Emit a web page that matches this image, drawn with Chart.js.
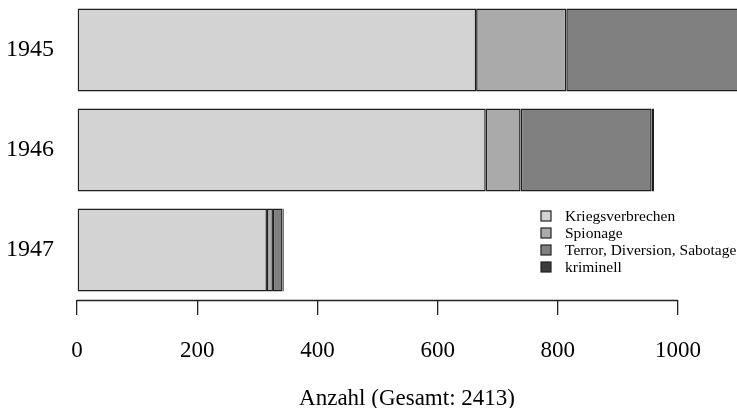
<!DOCTYPE html>
<html>
<head>
<meta charset="utf-8">
<script src="https://cdn.jsdelivr.net/npm/chart.js@4/dist/chart.umd.min.js"></script>
<style>
html,body{margin:0;padding:0;background:#fff;}
#wrap{width:737px;height:408px;position:relative;}
</style>
</head>
<body>
<div id="wrap"><canvas id="c" width="737" height="408"></canvas></div>
<script>
const years = ["1945", "1946", "1947"];
const kriegsverbrechen = [664, 680, 316];
const spionage = [150, 58, 10];
const terror = [290, 218, 16];
const kriminell = [5, 4, 2];
const seriesNames = ["Kriegsverbrechen", "Spionage", "Terror, Diversion, Sabotage", "kriminell"];
const xTicks = [0, 200, 400, 600, 800, 1000];
const axisTitle = "Anzahl (Gesamt: 2413)";

const colors = ["#d3d3d3", "#aaaaaa", "#808080", "#3c3c3c"];
const serif = "'Liberation Serif', 'Times New Roman', serif";

const detachedAxis = {
  id: 'detachedAxis',
  afterDraw(chart) {
    const ctx = chart.ctx;
    const xs = chart.scales.x;
    const y = chart.chartArea.bottom;
    ctx.save();
    ctx.strokeStyle = '#222';
    ctx.lineWidth = 1.3;
    ctx.beginPath();
    ctx.moveTo(xs.getPixelForValue(xTicks[0]), y + 0.5);
    ctx.lineTo(xs.getPixelForValue(xTicks[xTicks.length - 1]), y + 0.5);
    ctx.stroke();
    // legend
    const lx = 541, ly0 = 216, step = 17;
    ctx.font = "15.5px " + serif;
    ctx.textBaseline = 'middle';
    chart.data.datasets.forEach((ds, i) => {
      const yy = ly0 + i * step;
      ctx.fillStyle = ds.backgroundColor;
      ctx.fillRect(lx, yy - 5, 10, 10);
      ctx.strokeStyle = '#222';
      ctx.lineWidth = 1.2;
      ctx.strokeRect(lx, yy - 5, 10, 10);
      ctx.fillStyle = '#000';
      ctx.fillText(ds.label, 565, yy + 1);
    });
    ctx.restore();
  }
};

const datasets = [kriegsverbrechen, spionage, terror, kriminell].map((d, i) => ({
  label: seriesNames[i],
  data: d,
  backgroundColor: colors[i],
  borderColor: '#1e1e1e',
  borderWidth: 1.5,
  borderSkipped: false,
  barPercentage: 0.83,
  categoryPercentage: 1.0
}));

new Chart(document.getElementById('c'), {
  type: 'bar',
  data: { labels: years, datasets },
  plugins: [detachedAxis],
  options: {
    indexAxis: 'y',
    responsive: false,
    animation: false,
    layout: { padding: 0 },
    plugins: { legend: { display: false }, tooltip: { enabled: false } },
    scales: {
      x: {
        stacked: true,
        min: 0,
        max: 1098,
        afterBuildTicks(scale) { scale.ticks = xTicks.map(v => ({ value: v })); },
        afterFit(scale) { scale.height = 108; scale.paddingLeft = 0; scale.paddingRight = 0; },
        border: { display: false },
        grid: { drawOnChartArea: false, drawTicks: true, tickLength: 15, color: '#222', lineWidth: 1.3 },
        ticks: { color: '#000', font: { family: serif, size: 23 }, padding: 22, maxRotation: 0,
                 callback: v => String(v) },
        title: { display: true, text: axisTitle, color: '#000', font: { family: serif, size: 23, lineHeight: 0.77 }, padding: { top: 0, bottom: 0 } }
      },
      y: {
        stacked: true,
        afterFit(scale) { scale.width = 77; scale.paddingTop = 0; scale.paddingBottom = 0; },
        border: { display: false },
        grid: { display: false, drawTicks: false },
        ticks: { color: '#000', font: { family: serif, size: 24 }, padding: 23 }
      }
    }
  }
});
</script>
</body>
</html>
